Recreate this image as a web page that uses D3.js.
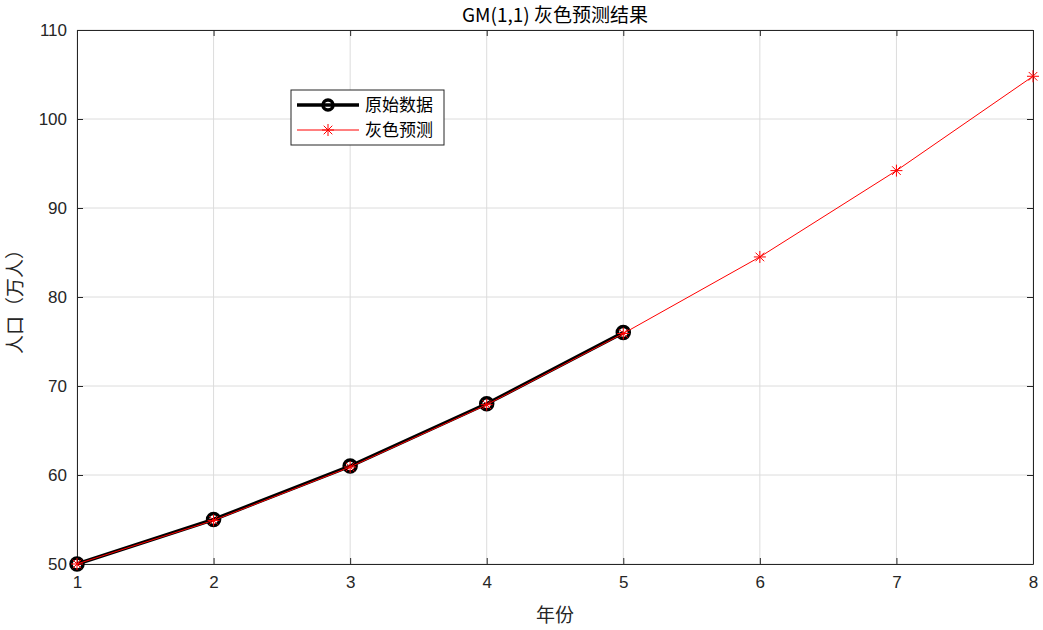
<!DOCTYPE html>
<html><head><meta charset="utf-8">
<script src="https://cdn.jsdelivr.net/npm/d3@7"></script>
<style>body{margin:0;background:#fff}text{font-family:"Noto Sans CJK SC","Liberation Sans",sans-serif}</style>
</head><body>
<svg id="chart" width="1043" height="630"></svg>
<script>
const years = [1, 2, 3, 4, 5, 6, 7, 8];
const original = [50, 55, 61, 68, 76];
const predicted = [50, 54.9, 60.9, 67.9, 75.9, 84.5, 94.2, 104.8];
const xTicks = [1, 2, 3, 4, 5, 6, 7, 8];
const yTicks = [50, 60, 70, 80, 90, 100, 110];

const svg = d3.select('#chart');
const margin = {left: 77, right: 10, top: 30, bottom: 66};
const width = 1043, height = 630;
const innerWidth = width - margin.left - margin.right;
const innerHeight = height - margin.top - margin.bottom;

const xScale = d3.scaleLinear().domain([1, 8]).range([0, innerWidth]);
const yScale = d3.scaleLinear().domain([50, 110]).range([innerHeight, 0]);

const g = svg.append('g').attr('transform', `translate(${margin.left},${margin.top})`);

// grid
g.selectAll('.gx').data(xTicks).join('line')
  .attr('x1', d => xScale(d)).attr('x2', d => xScale(d))
  .attr('y1', 0).attr('y2', innerHeight).attr('stroke', '#dcdcdc');
g.selectAll('.gy').data(yTicks).join('line')
  .attr('y1', d => yScale(d)).attr('y2', d => yScale(d))
  .attr('x1', 0).attr('x2', innerWidth).attr('stroke', '#dcdcdc');

// axes
const styleAxis = a => {
  a.attr('font-size', null).attr('font-family', null);
  a.selectAll('path').attr('stroke', '#262626');
  a.selectAll('line').attr('stroke', '#262626');
  a.selectAll('text').attr('fill', '#262626').style('font-size', '17px').style('font-family', '"Liberation Sans",sans-serif');
};
g.append('g').attr('transform', `translate(0,${innerHeight})`)
  .call(d3.axisBottom(xScale).tickValues(xTicks).tickFormat(d3.format('d')).tickSize(-6).tickSizeOuter(0).tickPadding(12)).call(styleAxis);
g.append('g')
  .call(d3.axisLeft(yScale).tickValues(yTicks).tickFormat(d3.format('d')).tickSize(-6).tickSizeOuter(0).tickPadding(10)).call(styleAxis);
g.append('g').attr('transform', `translate(${innerWidth},0)`)
  .call(d3.axisRight(yScale).tickValues(yTicks).tickSize(-6).tickSizeOuter(0).tickFormat('')).call(styleAxis);
g.append('g')
  .call(d3.axisTop(xScale).tickValues(xTicks).tickSize(-6).tickSizeOuter(0).tickFormat('')).call(styleAxis);

const line = d3.line().x((d, i) => xScale(years[i])).y(d => yScale(d));

// original
g.append('path').datum(original).attr('d', line).attr('fill', 'none').attr('stroke', '#000').attr('stroke-width', 3.5);
g.selectAll('.om').data(original).join('circle')
  .attr('cx', (d, i) => xScale(years[i])).attr('cy', d => yScale(d)).attr('r', 6)
  .attr('fill', 'none').attr('stroke', '#000').attr('stroke-width', 3.5);

// predicted
g.append('path').datum(predicted).attr('d', line).attr('fill', 'none').attr('stroke', 'red').attr('stroke-width', 1);
const star = 'M-6,0H6M0,-6V6M-4.3,-4.3L4.3,4.3M-4.3,4.3L4.3,-4.3';
g.selectAll('.pm').data(predicted).join('path')
  .attr('transform', (d, i) => `translate(${xScale(years[i])},${yScale(d)})`)
  .attr('d', star).attr('stroke', 'red').attr('stroke-width', 1);

// labels
svg.append('text').attr('x', margin.left + innerWidth / 2).attr('y', 22).attr('text-anchor', 'middle')
  .style('font-size', '19px').attr('fill', '#000').text('GM(1,1) 灰色预测结果');
svg.append('text').attr('x', margin.left + innerWidth / 2).attr('y', 622).attr('text-anchor', 'middle')
  .style('font-size', '19px').attr('fill', '#262626').text('年份');
svg.append('text').attr('transform', `translate(22,${margin.top + innerHeight / 2}) rotate(-90)`)
  .attr('text-anchor', 'middle').style('font-size', '19px').attr('fill', '#262626').text('人口（万人）');

// legend
const lg = svg.append('g').attr('transform', 'translate(291,90)');
lg.append('rect').attr('width', 153).attr('height', 55).attr('fill', '#fff').attr('stroke', '#262626');
lg.append('line').attr('x1', 6).attr('x2', 68).attr('y1', 15).attr('y2', 15).attr('stroke', '#000').attr('stroke-width', 3.5);
lg.append('circle').attr('cx', 37).attr('cy', 15).attr('r', 5).attr('fill', 'none').attr('stroke', '#000').attr('stroke-width', 3.5);
lg.append('line').attr('x1', 6).attr('x2', 68).attr('y1', 40).attr('y2', 40).attr('stroke', 'red');
lg.append('path').attr('transform', 'translate(37,40)').attr('d', star).attr('stroke', 'red');
lg.append('text').attr('x', 74).attr('y', 21).style('font-size', '17px').attr('fill', '#000').text('原始数据');
lg.append('text').attr('x', 74).attr('y', 46).style('font-size', '17px').attr('fill', '#000').text('灰色预测');
</script>
</body></html>
